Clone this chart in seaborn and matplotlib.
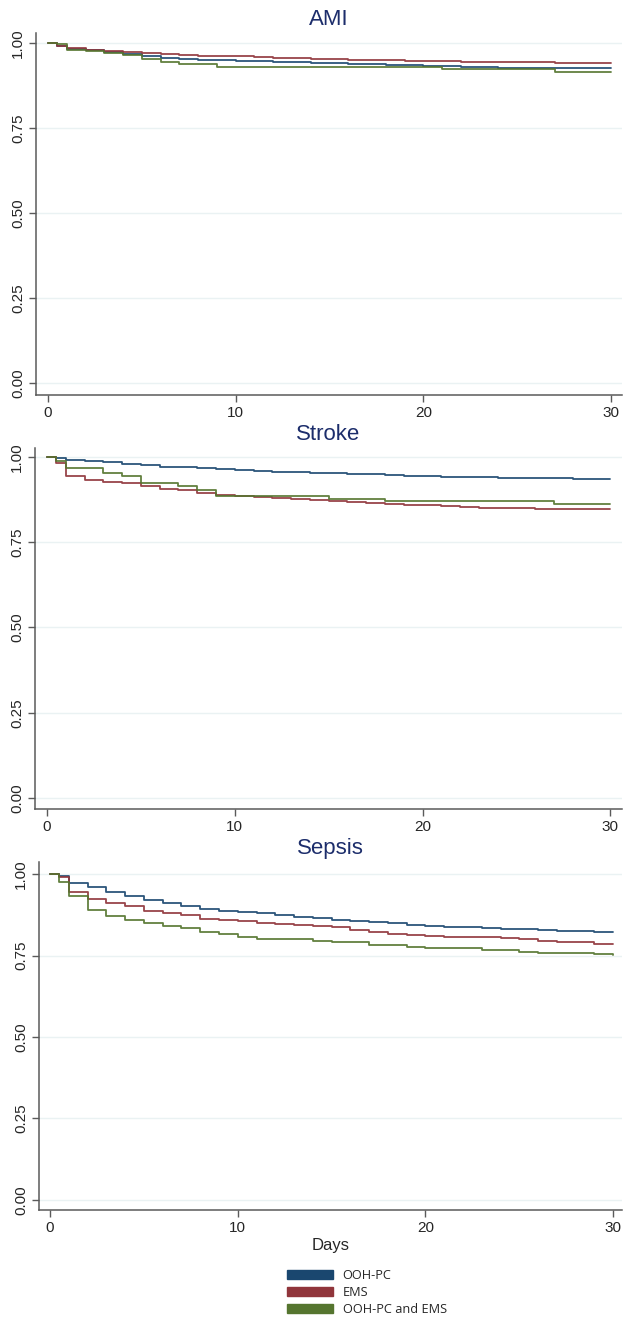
import numpy as np
import pandas as pd
import matplotlib
matplotlib.use("Agg")
import matplotlib.pyplot as plt
from matplotlib.patches import Patch
import seaborn as sns

# Follow-up time points (days)
days = [0, 0.5] + list(range(1, 31))

groups = ["OOH-PC", "EMS", "OOH-PC and EMS"]
colors = ["#1a476f", "#90353b", "#55752f"]

# Kaplan-Meier survival estimates, AMI
ami_oohpc = [1.000, 0.990, 0.983, 0.978, 0.974, 0.968, 0.962, 0.956, 0.952, 0.950,
             0.949, 0.948, 0.946, 0.944, 0.943, 0.942, 0.940, 0.939, 0.937, 0.936,
             0.934, 0.932, 0.931, 0.930, 0.928, 0.927, 0.927, 0.926, 0.925, 0.925,
             0.925, 0.925]
ami_ems = [1.000, 0.992, 0.985, 0.980, 0.976, 0.973, 0.969, 0.967, 0.964, 0.962,
           0.961, 0.960, 0.958, 0.956, 0.955, 0.954, 0.952, 0.951, 0.950, 0.949,
           0.948, 0.947, 0.946, 0.945, 0.945, 0.944, 0.944, 0.943, 0.942, 0.941,
           0.941, 0.941]
ami_both = [1.000, 0.997, 0.980, 0.975, 0.971, 0.963, 0.952, 0.944, 0.937, 0.937,
            0.929, 0.929, 0.929, 0.929, 0.929, 0.929, 0.929, 0.929, 0.929, 0.929,
            0.929, 0.929, 0.922, 0.922, 0.922, 0.922, 0.922, 0.922, 0.915, 0.915,
            0.915, 0.915]

# Stroke
stroke_oohpc = [1.000, 0.997, 0.991, 0.987, 0.984, 0.978, 0.975, 0.971, 0.969, 0.966,
                0.963, 0.961, 0.959, 0.957, 0.955, 0.953, 0.952, 0.951, 0.949, 0.947,
                0.944, 0.943, 0.942, 0.941, 0.940, 0.938, 0.938, 0.937, 0.937, 0.936,
                0.934, 0.934]
stroke_ems = [1.000, 0.982, 0.945, 0.932, 0.926, 0.922, 0.916, 0.906, 0.902, 0.894,
              0.887, 0.885, 0.883, 0.880, 0.877, 0.874, 0.870, 0.868, 0.865, 0.862,
              0.860, 0.858, 0.855, 0.853, 0.851, 0.850, 0.849, 0.848, 0.847, 0.846,
              0.846, 0.846]
stroke_both = [1.000, 0.989, 0.968, 0.968, 0.953, 0.945, 0.924, 0.924, 0.914, 0.902,
               0.885, 0.885, 0.885, 0.885, 0.885, 0.885, 0.877, 0.877, 0.877, 0.870,
               0.870, 0.870, 0.870, 0.870, 0.870, 0.870, 0.870, 0.870, 0.862, 0.862,
               0.862, 0.862]

# Sepsis
sepsis_oohpc = [1.000, 0.993, 0.974, 0.959, 0.945, 0.932, 0.920, 0.911, 0.901, 0.893,
                0.888, 0.884, 0.879, 0.875, 0.869, 0.865, 0.860, 0.856, 0.853, 0.849,
                0.845, 0.842, 0.839, 0.837, 0.835, 0.832, 0.830, 0.828, 0.826, 0.824,
                0.822, 0.822]
sepsis_ems = [1.000, 0.990, 0.945, 0.923, 0.911, 0.901, 0.888, 0.879, 0.875, 0.862,
              0.858, 0.855, 0.851, 0.848, 0.844, 0.842, 0.838, 0.828, 0.822, 0.817,
              0.814, 0.811, 0.808, 0.807, 0.806, 0.804, 0.801, 0.796, 0.793, 0.790,
              0.786, 0.784]
sepsis_both = [1.000, 0.976, 0.932, 0.891, 0.870, 0.859, 0.850, 0.840, 0.835, 0.821,
               0.817, 0.808, 0.800, 0.800, 0.800, 0.794, 0.791, 0.791, 0.781, 0.781,
               0.776, 0.772, 0.772, 0.772, 0.768, 0.768, 0.762, 0.757, 0.757, 0.757,
               0.755, 0.753]

panels = [
    ("AMI", [ami_oohpc, ami_ems, ami_both]),
    ("Stroke", [stroke_oohpc, stroke_ems, stroke_both]),
    ("Sepsis", [sepsis_oohpc, sepsis_ems, sepsis_both]),
]

y_ticks = [0.0, 0.25, 0.5, 0.75, 1.0]
y_ticklabels = ["0.00", "0.25", "0.50", "0.75", "1.00"]
x_ticks = [0, 10, 20, 30]

sns.set_theme(style="white")
plt.rcParams["font.family"] = ["Liberation Sans", "DejaVu Sans"]

W, H = 624, 1324
fig = plt.figure(figsize=(W / 100, H / 100), dpi=100)
fig.patch.set_facecolor("white")

# axes boxes in pixels: left, right, top, bottom, plus data limits
boxes = [
    (36, 622, 33, 395, (-0.64, 30.58), (-0.035, 1.029)),
    (35, 622, 448, 809, (-0.64, 30.62), (-0.032, 1.026)),
    (39, 622, 862, 1210, (-0.59, 30.47), (-0.031, 1.037)),
]

title_color = "#1c2d6b"
axis_color = "#5a5a5a"
text_color = "#262626"

for i, ((name, series), (l, r, t, b, xl, yl)) in enumerate(zip(panels, boxes)):
    ax = fig.add_axes([l / W, 1 - b / H, (r - l) / W, (b - t) / H])
    df = pd.concat(
        [pd.DataFrame({"day": days, "survival": vals, "group": g})
         for g, vals in zip(groups, series)],
        ignore_index=True,
    )
    sns.lineplot(data=df, x="day", y="survival", hue="group", hue_order=groups,
                 palette=colors, estimator=None, drawstyle="steps-post",
                 linewidth=1.3, alpha=0.92, legend=False, ax=ax)
    ax.set_xlim(*xl)
    ax.set_ylim(*yl)
    ax.set_yticks(y_ticks)
    ax.set_yticklabels(y_ticklabels, rotation=90, va="center")
    ax.set_xticks(x_ticks)
    ax.tick_params(axis="both", direction="out", length=5, width=1,
                   color=axis_color, labelcolor=text_color, labelsize=11,
                   left=True, bottom=True, pad=3)
    ax.yaxis.grid(True, color="#eaf2f3", linewidth=1)
    ax.xaxis.grid(False)
    ax.set_axisbelow(True)
    for side in ["top", "right"]:
        ax.spines[side].set_visible(False)
    for side in ["left", "bottom"]:
        ax.spines[side].set_color(axis_color)
        ax.spines[side].set_linewidth(1.1)
    ax.set_title(name, color=title_color, fontsize=16, pad=5.5)
    ax.set_ylabel("")
    if i == 2:
        ax.set_xlabel("Days", fontsize=12, color=text_color, labelpad=2)
    else:
        ax.set_xlabel("")

handles = [Patch(facecolor=c, edgecolor=c) for c in colors]
fig.legend(handles, groups, loc="upper left",
           bbox_to_anchor=(287 / W, 1 - 1269 / H),
           frameon=False, borderpad=0, borderaxespad=0,
           handlelength=3.6, handleheight=0.7, handletextpad=0.75,
           labelspacing=0.3,
           prop={"family": ["Open Sans", "DejaVu Sans"], "size": 9.2},
           labelcolor=text_color)

fig.savefig("out.png", dpi=100, facecolor="white")
